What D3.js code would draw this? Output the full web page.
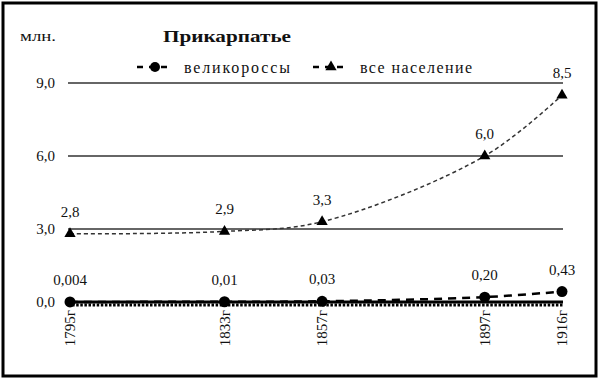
<!DOCTYPE html>
<html><head><meta charset="utf-8">
<script src="https://cdn.jsdelivr.net/npm/d3@7"></script>
<style>body{margin:0;background:#fff}svg{display:block}</style>
</head><body>
<script>
const years = [1795, 1833, 1857, 1897, 1916];
const yearLabels = ["1795г", "1833г", "1857г", "1897г", "1916г"];
const russians = [0.004, 0.01, 0.03, 0.20, 0.43];
const russiansLabels = ["0,004", "0,01", "0,03", "0,20", "0,43"];
const total = [2.8, 2.9, 3.3, 6.0, 8.5];
const totalLabels = ["2,8", "2,9", "3,3", "6,0", "8,5"];
const yTicks = [0, 3, 6, 9];
const yTickLabels = ["0,0", "3,0", "6,0", "9,0"];
const seriesNames = ["великороссы", "все население"];

const FONT = "Liberation Serif, serif";
const W = 600, H = 381;
const svg = d3.select("body").append("svg").attr("width", W).attr("height", H)
  .attr("font-family", FONT);

// frame
svg.append("rect").attr("x", 3).attr("y", 3).attr("width", 593).attr("height", 373)
  .attr("fill", "#fff").attr("stroke", "#000").attr("stroke-width", 3);

const x = d3.scaleLinear().domain([1795, 1916]).range([70, 562]);
const y = d3.scaleLinear().domain([0, 9]).range([302, 83]);

function txt(sel) { return sel.attr("font-family", FONT).attr("fill", "#111"); }

// gridlines
svg.append("g").selectAll("line").data(yTicks.filter(d => d > 0)).join("line")
  .attr("x1", 68).attr("x2", 563).attr("y1", d => y(d)).attr("y2", d => y(d))
  .attr("stroke", "#333").attr("stroke-width", 1.5);

// y labels
txt(svg.append("g").selectAll("text").data(yTicks).join("text"))
  .attr("x", 55).attr("y", d => y(d)).attr("dy", "0.35em").attr("text-anchor", "end")
  .attr("font-size", 15).text((d, i) => yTickLabels[i]);

txt(svg.append("text")).attr("x", 20).attr("y", 41).attr("font-size", 14)
  .attr("textLength", 36).attr("lengthAdjust", "spacingAndGlyphs").text("млн.");

// title
txt(svg.append("text")).attr("x", 163).attr("y", 42).attr("font-size", 17).attr("font-weight", "bold")
  .attr("textLength", 128).attr("lengthAdjust", "spacingAndGlyphs").text("Прикарпатье");

// x axis (comb-like)
svg.append("line").attr("x1", 68).attr("x2", 563).attr("y1", y(0)).attr("y2", y(0))
  .attr("stroke", "#000").attr("stroke-width", 3);
svg.append("line").attr("x1", 68).attr("x2", 563).attr("y1", y(0) + 3).attr("y2", y(0) + 3)
  .attr("stroke", "#000").attr("stroke-width", 3).attr("stroke-dasharray", "2.5,1.6");

// x labels
txt(svg.append("g").selectAll("text").data(years).join("text"))
  .attr("transform", d => `translate(${x(d)},310) rotate(-90)`)
  .attr("text-anchor", "end").attr("dy", "0.35em").attr("font-size", 15)
  .text((d, i) => yearLabels[i]);

const line = d3.line().x((d, i) => x(years[i])).y(d => y(d)).curve(d3.curveCatmullRom.alpha(0.5));

// total population
svg.append("path").datum(total).attr("d", line).attr("fill", "none")
  .attr("stroke", "#333").attr("stroke-width", 1.5).attr("stroke-dasharray", "4,3");
const tri = d3.symbol().type(d3.symbolTriangle).size(55);
svg.append("g").selectAll("path").data(total).join("path")
  .attr("transform", (d, i) => `translate(${x(years[i])},${y(d)})`).attr("d", tri).attr("fill", "#000");

// russians
svg.append("path").datum(russians).attr("d", line).attr("fill", "none")
  .attr("stroke", "#000").attr("stroke-width", 2.5).attr("stroke-dasharray", "8,6");
svg.append("g").selectAll("circle").data(russians).join("circle")
  .attr("cx", (d, i) => x(years[i])).attr("cy", d => y(d)).attr("r", 5.5).attr("fill", "#000");

// data labels
txt(svg.append("g").selectAll("text").data(total).join("text"))
  .attr("x", (d, i) => x(years[i])).attr("y", d => y(d) - 17).attr("text-anchor", "middle")
  .attr("font-size", 15).text((d, i) => totalLabels[i]);
txt(svg.append("g").selectAll("text").data(russians).join("text"))
  .attr("x", (d, i) => x(years[i])).attr("y", d => y(d) - 17).attr("text-anchor", "middle")
  .attr("font-size", 15).text((d, i) => russiansLabels[i]);

// legend
const lg = svg.append("g");
lg.append("line").attr("x1", 137).attr("x2", 172).attr("y1", 67).attr("y2", 67)
  .attr("stroke", "#000").attr("stroke-width", 2.5).attr("stroke-dasharray", "6,6");
lg.append("circle").attr("cx", 155).attr("cy", 67).attr("r", 5).attr("fill", "#000");
txt(lg.append("text")).attr("x", 184).attr("y", 73).attr("font-size", 16)
  .attr("textLength", 106).attr("lengthAdjust", "spacing").text(seriesNames[0]);
lg.append("line").attr("x1", 313).attr("x2", 349).attr("y1", 67).attr("y2", 67)
  .attr("stroke", "#000").attr("stroke-width", 2.5).attr("stroke-dasharray", "6,6");
lg.append("path").attr("transform", "translate(331,67)").attr("d", tri).attr("fill", "#000");
txt(lg.append("text")).attr("x", 360).attr("y", 73).attr("font-size", 16)
  .attr("textLength", 112).attr("lengthAdjust", "spacing").text(seriesNames[1]);
</script>
</body></html>
